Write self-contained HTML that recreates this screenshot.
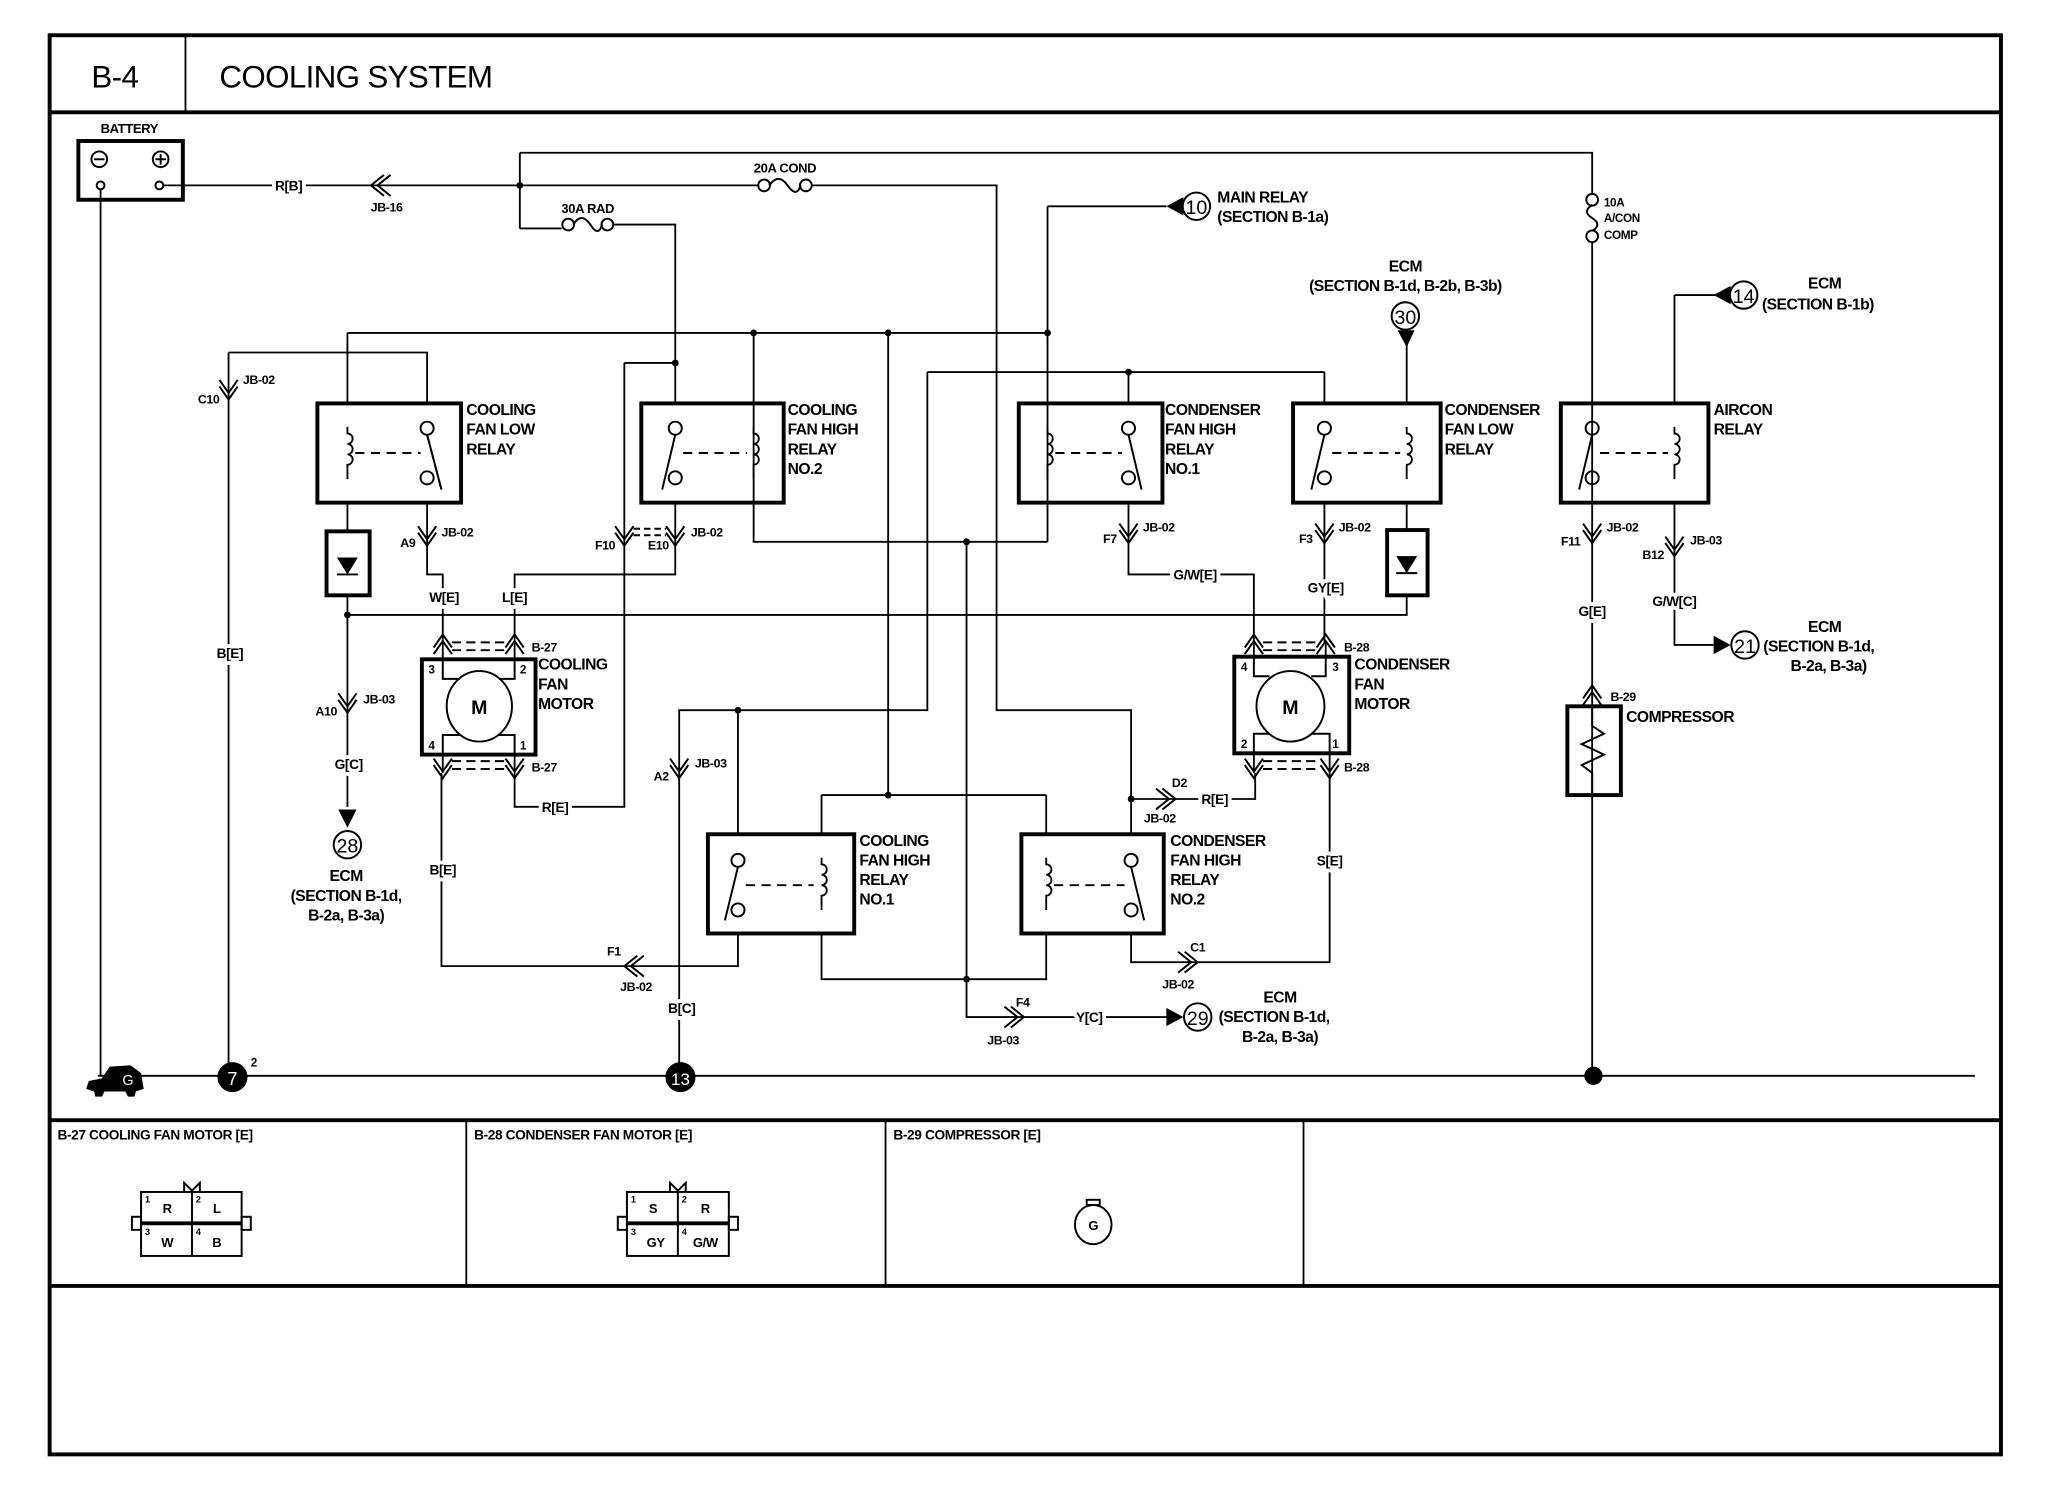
<!DOCTYPE html>
<html><head><meta charset="utf-8"><style>
html,body{margin:0;padding:0;background:#fff;}
svg{display:block;}
text{font-family:"Liberation Sans",Arial,sans-serif;font-weight:bold;fill:#000;}
.t{font-size:12px;letter-spacing:-0.4px;}
.s{font-size:10px;letter-spacing:-0.3px;}
.lb{font-size:10.5px;paint-order:stroke;stroke:#fff;stroke-width:6px;stroke-linejoin:round;letter-spacing:-0.3px;}
.w{fill:none;stroke:#000;stroke-width:1.4;}
.b{fill:none;stroke:#000;stroke-width:3;}
.c{fill:none;stroke:#000;stroke-width:1.5;}
</style></head><body>
<svg width="2048" height="1504" viewBox="0 0 1568 1152" preserveAspectRatio="none" xmlns="http://www.w3.org/2000/svg">
<defs>
<g id="vd"><path class="c" d="M-7,-9 L0,1 L7,-9 M-7,-4 L0,6 L7,-4"/></g>
<g id="vu"><path class="c" d="M-7,9 L0,-1 L7,9 M-7,4 L0,-6 L7,4"/></g>
<g id="hl"><path class="c" d="M9,-8 L-1,0 L9,8 M4,-8 L-6,0 L4,8"/></g>
<g id="hr"><path class="c" d="M-9,-8 L1,0 L-9,8 M-4,-8 L6,0 L-4,8"/></g>
<g id="coil"><path class="w" d="M0,-20 L0,-15 a4,4 0 1 1 0,8 a4,4 0 1 1 0,8 a4,4 0 1 1 0,8 L0,20"/></g>
</defs>

<!-- frame -->
<rect x="38" y="27" width="1494" height="1087" class="b" stroke-width="2.5"/>
<line x1="38" y1="86" x2="1532" y2="86" class="b" stroke-width="2.5"/>
<line x1="142" y1="27" x2="142" y2="86" class="w" stroke-width="1.5"/>
<text x="70" y="67" style="font-size:24px;font-weight:normal;letter-spacing:-0.5px">B-4</text>
<text x="168" y="67" style="font-size:24px;font-weight:normal;letter-spacing:-0.5px">COOLING SYSTEM</text>
<line x1="38" y1="858" x2="1532" y2="858" class="b" stroke-width="2.5"/>
<line x1="38" y1="985" x2="1532" y2="985" class="b" stroke-width="2.5"/>
<line x1="357" y1="858" x2="357" y2="985" class="w"/>
<line x1="678" y1="858" x2="678" y2="985" class="w"/>
<line x1="998" y1="858" x2="998" y2="985" class="w"/>

<!-- battery -->
<text x="99" y="102" class="s" text-anchor="middle">BATTERY</text>
<rect x="60" y="108" width="80" height="45" class="b" stroke-width="2.5"/>
<circle cx="76" cy="122" r="6" class="c"/><line x1="72" y1="122" x2="80" y2="122" class="c"/>
<circle cx="123" cy="122" r="6" class="c"/><line x1="119" y1="122" x2="127" y2="122" class="c"/><line x1="123" y1="118" x2="123" y2="126" class="c"/>
<circle cx="77" cy="142" r="3" class="c"/><circle cx="122" cy="142" r="3" class="c"/>

<!-- wires -->
<g class="w">
<path d="M77,145 V824"/>
<path d="M125,142 H398"/>
<path d="M398,117 V175 M398,117 H1219 V149 M1219,184 V824"/>
<path d="M398,142 H580 M622,142 H763 V544 H866 V639 M866,612 H961 V592"/>
<path d="M398,175 H430 M470,172 H517 V309"/>
<path d="M478,278 H517 M478,278 V618 H394 V592"/>
<path d="M517,385 V440 H394 V490"/>
<path d="M327,385 V440 H339 V490"/>
<path d="M266,255 H802 M266,255 V309"/>
<path d="M175,270 H327 V309 M175,270 V824"/>
<path d="M266,385 V407 M266,456 V618"/>
<path d="M266,471 H1077 V456"/>
<path d="M577,255 V415 H802 M802,158 H893 M802,158 V415"/>
<path d="M680,255 V609 M629,609 H801 M629,609 V639 M801,609 V639"/>
<path d="M710,285 H1014 M710,285 V544 H520 V824 M565,544 V639 M864,285 V309 M1014,285 V309"/>
<path d="M740,415 V779 H897"/>
<path d="M629,715 V750 H801 V715"/>
<path d="M565,715 V740 H520 M338,592 V740 H520"/>
<path d="M866,715 V737 H1018 V592"/>
<path d="M864,385 V440 H960 V492"/>
<path d="M1014,385 V492"/>
<path d="M1077,262 V309 M1077,385 V406"/>
<path d="M1282,226 H1313 M1282,226 V309 M1282,385 V494 H1312"/>
<path d="M75,824 H1512"/>
<path d="M339,490 V505 M394,490 V505 M339,578 V592 M394,578 V592"/>
<path d="M960,492 V503 M1015,492 V503 M960,577 V592 M1018,577 V592"/>
</g>

<!-- fuses -->
<g class="c">
<circle cx="585" cy="142" r="4.5" fill="#fff"/><circle cx="617" cy="142" r="4.5" fill="#fff"/><path d="M589,142 q7,-10 14,0 q7,10 10,0"/>
<circle cx="435" cy="172" r="4.5" fill="#fff"/><circle cx="465" cy="172" r="4.5" fill="#fff"/><path d="M439,172 q6,-10 13,0 q6,10 9,0"/>
<circle cx="1219" cy="153" r="4.5" fill="#fff"/><circle cx="1219" cy="181" r="4.5" fill="#fff"/><path d="M1219,157 q-8,5 0,10 q8,5 0,10"/>
</g>
<text x="601" y="132" class="s" text-anchor="middle">20A COND</text>
<text x="450" y="163" class="s" text-anchor="middle">30A RAD</text>
<text x="1228" y="158" class="s" style="font-size:9px">10A</text>
<text x="1228" y="170" class="s" style="font-size:9px">A/CON</text>
<text x="1228" y="183" class="s" style="font-size:9px">COMP</text>

<!-- dots -->
<g>
<circle cx="398" cy="142" r="2.6"/><circle cx="517" cy="278" r="2.6"/><circle cx="577" cy="255" r="2.6"/><circle cx="680" cy="255" r="2.6"/><circle cx="802" cy="255" r="2.6"/>
<circle cx="864" cy="285" r="2.6"/><circle cx="740" cy="415" r="2.6"/><circle cx="266" cy="471" r="2.6"/><circle cx="565" cy="544" r="2.6"/>
<circle cx="680" cy="609" r="2.6"/><circle cx="866" cy="612" r="2.6"/><circle cx="740" cy="750" r="2.6"/>
<circle cx="1220" cy="824" r="7"/>
</g>

<!-- top relays -->
<g>
<rect x="243" y="309" width="110" height="76" class="b"/>
<use href="#coil" x="266" y="347"/>
<circle cx="327" cy="328" rx="5" r="5" class="c" fill="#fff"/><circle cx="327" cy="366" r="5" class="c" fill="#fff"/>
<path class="c" d="M327,333 L338,375 M272,347 H322" stroke-dasharray="7,5"/>
<path class="c" d="M327,333 L338,375"/>
<text x="357" y="318" class="t">COOLING</text><text x="357" y="333" class="t">FAN LOW</text><text x="357" y="348" class="t">RELAY</text>

<rect x="491" y="309" width="109" height="76" class="b"/>
<use href="#coil" x="577" y="347"/>
<circle cx="517" cy="328" r="5" class="c" fill="#fff"/><circle cx="517" cy="366" r="5" class="c" fill="#fff"/>
<path class="c" d="M517,333 L507,375"/><path class="c" d="M523,347 H572" stroke-dasharray="7,5"/>
<text x="603" y="318" class="t">COOLING</text><text x="603" y="333" class="t">FAN HIGH</text><text x="603" y="348" class="t">RELAY</text><text x="603" y="363" class="t">NO.2</text>

<rect x="780" y="309" width="110" height="76" class="b"/>
<use href="#coil" x="802" y="347"/>
<circle cx="864" cy="328" r="5" class="c" fill="#fff"/><circle cx="864" cy="366" r="5" class="c" fill="#fff"/>
<path class="c" d="M864,333 L874,375"/><path class="c" d="M808,347 H859" stroke-dasharray="7,5"/>
<text x="892" y="318" class="t">CONDENSER</text><text x="892" y="333" class="t">FAN HIGH</text><text x="892" y="348" class="t">RELAY</text><text x="892" y="363" class="t">NO.1</text>

<rect x="990" y="309" width="113" height="76" class="b"/>
<use href="#coil" x="1077" y="347"/>
<circle cx="1014" cy="328" r="5" class="c" fill="#fff"/><circle cx="1014" cy="366" r="5" class="c" fill="#fff"/>
<path class="c" d="M1014,333 L1004,375"/><path class="c" d="M1020,347 H1072" stroke-dasharray="7,5"/>
<text x="1106" y="318" class="t">CONDENSER</text><text x="1106" y="333" class="t">FAN LOW</text><text x="1106" y="348" class="t">RELAY</text>

<rect x="1195" y="309" width="113" height="76" class="b"/>
<use href="#coil" x="1282" y="347"/>
<circle cx="1219" cy="328" r="5" class="c" fill="#fff"/><circle cx="1219" cy="366" r="5" class="c" fill="#fff"/>
<path class="c" d="M1219,333 L1209,375"/><path class="c" d="M1225,347 H1277" stroke-dasharray="7,5"/>
<text x="1312" y="318" class="t">AIRCON</text><text x="1312" y="333" class="t">RELAY</text>
</g>

<!-- bottom relays -->
<g>
<rect x="542" y="639" width="112" height="76" class="b"/>
<use href="#coil" x="629" y="677"/>
<circle cx="565" cy="659" r="5" class="c" fill="#fff"/><circle cx="565" cy="697" r="5" class="c" fill="#fff"/>
<path class="c" d="M565,664 L555,705"/><path class="c" d="M571,678 H623" stroke-dasharray="7,5"/>
<text x="658" y="648" class="t">COOLING</text><text x="658" y="663" class="t">FAN HIGH</text><text x="658" y="678" class="t">RELAY</text><text x="658" y="693" class="t">NO.1</text>

<rect x="782" y="639" width="109" height="76" class="b"/>
<use href="#coil" x="801" y="677"/>
<circle cx="866" cy="659" r="5" class="c" fill="#fff"/><circle cx="866" cy="697" r="5" class="c" fill="#fff"/>
<path class="c" d="M866,664 L876,705"/><path class="c" d="M807,678 H861" stroke-dasharray="7,5"/>
<text x="896" y="648" class="t">CONDENSER</text><text x="896" y="663" class="t">FAN HIGH</text><text x="896" y="678" class="t">RELAY</text><text x="896" y="693" class="t">NO.2</text>
</g>

<!-- diodes -->
<rect x="250" y="407" width="33" height="49" class="b"/>
<path d="M258,427 H274 L266,440 Z"/><line x1="258" y1="440" x2="274" y2="440" class="c"/>
<rect x="1062" y="406" width="31" height="50" class="b"/>
<path d="M1069,426 H1085 L1077,439 Z"/><line x1="1069" y1="439" x2="1085" y2="439" class="c"/>

<!-- motors -->
<rect x="323" y="505" width="87" height="73" class="b"/>
<path class="c" d="M339,505 V520 H352 M394,505 V520 H382 M339,578 V563 H352 M394,578 V563 H382"/>
<ellipse cx="367" cy="541" rx="25" ry="27" class="c" fill="#fff"/>
<text x="367" y="547" style="font-size:15px" text-anchor="middle">M</text>
<text x="328" y="516" class="s" style="font-size:9px">3</text><text x="398" y="516" class="s" style="font-size:9px">2</text>
<text x="328" y="574" class="s" style="font-size:9px">4</text><text x="398" y="574" class="s" style="font-size:9px">1</text>
<text x="412" y="513" class="t">COOLING</text><text x="412" y="528" class="t">FAN</text><text x="412" y="543" class="t">MOTOR</text>

<rect x="945" y="503" width="88" height="74" class="b"/>
<path class="c" d="M960,503 V518 H972 M1015,503 V518 H1004 M960,577 V562 H972 M1018,577 V562 H1004"/>
<ellipse cx="988" cy="541" rx="26" ry="27" class="c" fill="#fff"/>
<text x="988" y="547" style="font-size:15px" text-anchor="middle">M</text>
<text x="950" y="514" class="s" style="font-size:9px">4</text><text x="1020" y="514" class="s" style="font-size:9px">3</text>
<text x="950" y="573" class="s" style="font-size:9px">2</text><text x="1020" y="573" class="s" style="font-size:9px">1</text>
<text x="1037" y="513" class="t">CONDENSER</text><text x="1037" y="528" class="t">FAN</text><text x="1037" y="543" class="t">MOTOR</text>

<!-- compressor -->
<rect x="1200" y="541" width="41" height="68" class="b"/>
<path class="c" d="M1219,541 V556 L1228,562 L1211,570 L1228,578 L1211,586 L1219,592 V609"/>
<text x="1245" y="553" class="t">COMPRESSOR</text>

<!-- connectors -->
<use href="#hl" x="290" y="142"/>
<use href="#vd" x="175" y="300"/>
<use href="#vd" x="327" y="412"/>
<use href="#vd" x="478" y="412"/><use href="#vd" x="517" y="412"/>
<path class="c" d="M485,405 H510 M485,410 H510" stroke-dasharray="5,3"/>
<use href="#vd" x="266" y="540"/>
<use href="#vd" x="864" y="410"/>
<use href="#vd" x="1014" y="410"/>
<use href="#vd" x="1219" y="410"/>
<use href="#vd" x="1282" y="420"/>
<use href="#vd" x="520" y="590"/>
<use href="#hl" x="484" y="740"/>
<use href="#hr" x="894" y="612"/>
<use href="#hr" x="911" y="737"/>
<use href="#hr" x="778" y="779"/>
<use href="#vu" x="339" y="492"/><use href="#vu" x="394" y="492"/>
<path class="c" d="M346,492 H387 M346,498 H387" stroke-dasharray="7,4"/>
<use href="#vd" x="339" y="590"/><use href="#vd" x="394" y="590"/>
<path class="c" d="M346,583 H387 M346,589 H387" stroke-dasharray="7,4"/>
<use href="#vu" x="960" y="492"/><use href="#vu" x="1015" y="492"/>
<path class="c" d="M967,492 H1008 M967,498 H1008" stroke-dasharray="7,4"/>
<use href="#vd" x="960" y="590"/><use href="#vd" x="1018" y="590"/>
<path class="c" d="M967,583 H1011 M967,589 H1011" stroke-dasharray="7,4"/>
<use href="#vu" x="1219" y="531"/>

<g class="s" style="font-size:9.5px">
<text x="296" y="162" text-anchor="middle">JB-16</text>
<text x="168" y="309" text-anchor="end">C10</text><text x="186" y="294">JB-02</text>
<text x="318" y="419" text-anchor="end">A9</text><text x="338" y="411">JB-02</text>
<text x="471" y="421" text-anchor="end">F10</text><text x="512" y="421" text-anchor="end">E10</text><text x="529" y="411">JB-02</text>
<text x="258" y="548" text-anchor="end">A10</text><text x="278" y="539">JB-03</text>
<text x="855" y="416" text-anchor="end">F7</text><text x="875" y="407">JB-02</text>
<text x="1005" y="416" text-anchor="end">F3</text><text x="1025" y="407">JB-02</text>
<text x="1210" y="418" text-anchor="end">F11</text><text x="1230" y="407">JB-02</text>
<text x="1274" y="428" text-anchor="end">B12</text><text x="1294" y="417">JB-03</text>
<text x="512" y="598" text-anchor="end">A2</text><text x="532" y="588">JB-03</text>
<text x="470" y="732" text-anchor="middle">F1</text><text x="487" y="759" text-anchor="middle">JB-02</text>
<text x="903" y="603" text-anchor="middle">D2</text><text x="888" y="630" text-anchor="middle">JB-02</text>
<text x="917" y="729" text-anchor="middle">C1</text><text x="902" y="757" text-anchor="middle">JB-02</text>
<text x="783" y="771" text-anchor="middle">F4</text><text x="768" y="800" text-anchor="middle">JB-03</text>
<text x="407" y="499">B-27</text><text x="407" y="591">B-27</text>
<text x="1029" y="499">B-28</text><text x="1029" y="591">B-28</text>
<text x="1233" y="537">B-29</text>
</g>

<!-- wire labels -->
<g class="lb">
<text x="221" y="146" text-anchor="middle">R[B]</text>
<text x="176" y="504" text-anchor="middle">B[E]</text>
<text x="340" y="461" text-anchor="middle">W[E]</text>
<text x="394" y="461" text-anchor="middle">L[E]</text>
<text x="267" y="589" text-anchor="middle">G[C]</text>
<text x="339" y="670" text-anchor="middle">B[E]</text>
<text x="425" y="622" text-anchor="middle">R[E]</text>
<text x="915" y="444" text-anchor="middle">G/W[E]</text>
<text x="1015" y="454" text-anchor="middle">GY[E]</text>
<text x="1219" y="472" text-anchor="middle">G[E]</text>
<text x="1282" y="464" text-anchor="middle">G/W[C]</text>
<text x="1018" y="663" text-anchor="middle">S[E]</text>
<text x="930" y="616" text-anchor="middle">R[E]</text>
<text x="834" y="783" text-anchor="middle">Y[C]</text>
<text x="522" y="776" text-anchor="middle">B[C]</text>
</g>

<!-- reference circles -->
<g>
<path d="M893,158 L906,151 L906,165 Z"/>
<circle cx="916" cy="158" r="10.5" class="c" fill="#fff"/><text x="916" y="164" text-anchor="middle" style="font-size:15px;font-weight:normal">10</text>
<text x="932" y="155" class="t">MAIN RELAY</text><text x="932" y="170" class="t">(SECTION B-1a)</text>

<circle cx="1076" cy="242" r="10.5" class="c" fill="#fff"/><text x="1076" y="248" text-anchor="middle" style="font-size:15px;font-weight:normal">30</text>
<path d="M1070,253 L1083,253 L1077,266 Z"/>
<text x="1076" y="208" class="t" text-anchor="middle">ECM</text><text x="1076" y="223" class="t" text-anchor="middle">(SECTION B-1d, B-2b, B-3b)</text>

<path d="M1312,226 L1325,219 L1325,233 Z"/>
<circle cx="1335" cy="226" r="10.5" class="c" fill="#fff"/><text x="1335" y="232" text-anchor="middle" style="font-size:15px;font-weight:normal">14</text>
<text x="1397" y="221" class="t" text-anchor="middle">ECM</text><text x="1349" y="237" class="t">(SECTION B-1b)</text>

<path d="M1325,494 L1312,487 L1312,501 Z"/>
<circle cx="1336" cy="494" r="10.5" class="c" fill="#fff"/><text x="1336" y="500" text-anchor="middle" style="font-size:15px;font-weight:normal">21</text>
<text x="1397" y="484" class="t" text-anchor="middle">ECM</text><text x="1350" y="499" class="t">(SECTION B-1d,</text><text x="1400" y="514" class="t" text-anchor="middle">B-2a, B-3a)</text>

<path d="M906,779 L893,772 L893,786 Z"/>
<circle cx="917" cy="779" r="10.5" class="c" fill="#fff"/><text x="917" y="785" text-anchor="middle" style="font-size:15px;font-weight:normal">29</text>
<text x="980" y="768" class="t" text-anchor="middle">ECM</text><text x="933" y="783" class="t">(SECTION B-1d,</text><text x="980" y="798" class="t" text-anchor="middle">B-2a, B-3a)</text>

<path d="M259,620 L273,620 L266,634 Z"/>
<circle cx="266" cy="647" r="10.5" class="c" fill="#fff"/><text x="266" y="653" text-anchor="middle" style="font-size:15px;font-weight:normal">28</text>
<text x="265" y="675" class="t" text-anchor="middle">ECM</text><text x="265" y="690" class="t" text-anchor="middle">(SECTION B-1d,</text><text x="265" y="705" class="t" text-anchor="middle">B-2a, B-3a)</text>
</g>

<!-- grounds -->
<path d="M66,834 L68,828 L78,826 L84,817 L100,816 L108,822 L110,834 L104,836 L103,840 L98,840 L96,836 L80,836 L78,840 L73,840 L72,836 Z"/>
<text x="98" y="831" text-anchor="middle" style="fill:#fff;font-size:11px;font-weight:normal">G</text>
<circle cx="178" cy="825" r="11.5"/><text x="178" y="831" text-anchor="middle" style="fill:#fff;font-size:14px;font-weight:normal">7</text>
<text x="192" y="817" class="s" style="font-size:9px">2</text>
<circle cx="521" cy="825" r="11.5"/><text x="521" y="831" text-anchor="middle" style="fill:#fff;font-size:13px;font-weight:normal">13</text>

<!-- connector table -->
<g class="s" style="font-size:10.5px;font-weight:normal">
<text x="44" y="873">B-27 COOLING FAN MOTOR [E]</text>
<text x="363" y="873">B-28 CONDENSER FAN MOTOR [E]</text>
<text x="684" y="873">B-29 COMPRESSOR [E]</text>
</g>
<g>
<rect x="108" y="913" width="77" height="49" class="c"/><line x1="147" y1="913" x2="147" y2="962" class="c"/><line x1="108" y1="937" x2="185" y2="937" class="b" stroke-width="2"/>
<rect x="101" y="932" width="7" height="10" class="c"/><rect x="185" y="932" width="7" height="10" class="c"/>
<path class="c" d="M141,913 V906 L147,912 L153,906 V913"/>
<text x="111" y="921" class="s" style="font-size:7px">1</text><text x="150" y="921" class="s" style="font-size:7px">2</text><text x="111" y="946" class="s" style="font-size:7px">3</text><text x="150" y="946" class="s" style="font-size:7px">4</text>
<text x="128" y="929" class="s" text-anchor="middle">R</text><text x="166" y="929" class="s" text-anchor="middle">L</text><text x="128" y="955" class="s" text-anchor="middle">W</text><text x="166" y="955" class="s" text-anchor="middle">B</text>

<rect x="480" y="913" width="78" height="49" class="c"/><line x1="519" y1="913" x2="519" y2="962" class="c"/><line x1="480" y1="937" x2="558" y2="937" class="b" stroke-width="2"/>
<rect x="473" y="932" width="7" height="10" class="c"/><rect x="558" y="932" width="7" height="10" class="c"/>
<path class="c" d="M513,913 V906 L519,912 L525,906 V913"/>
<text x="483" y="921" class="s" style="font-size:7px">1</text><text x="522" y="921" class="s" style="font-size:7px">2</text><text x="483" y="946" class="s" style="font-size:7px">3</text><text x="522" y="946" class="s" style="font-size:7px">4</text>
<text x="500" y="929" class="s" text-anchor="middle">S</text><text x="540" y="929" class="s" text-anchor="middle">R</text><text x="502" y="955" class="s" text-anchor="middle">GY</text><text x="540" y="955" class="s" text-anchor="middle">G/W</text>

<ellipse cx="837" cy="938" rx="14" ry="15" class="c"/><rect x="832" y="919" width="10" height="4" class="c"/>
<text x="837" y="942" class="s" text-anchor="middle">G</text>
</g>
</svg>
</body></html>
